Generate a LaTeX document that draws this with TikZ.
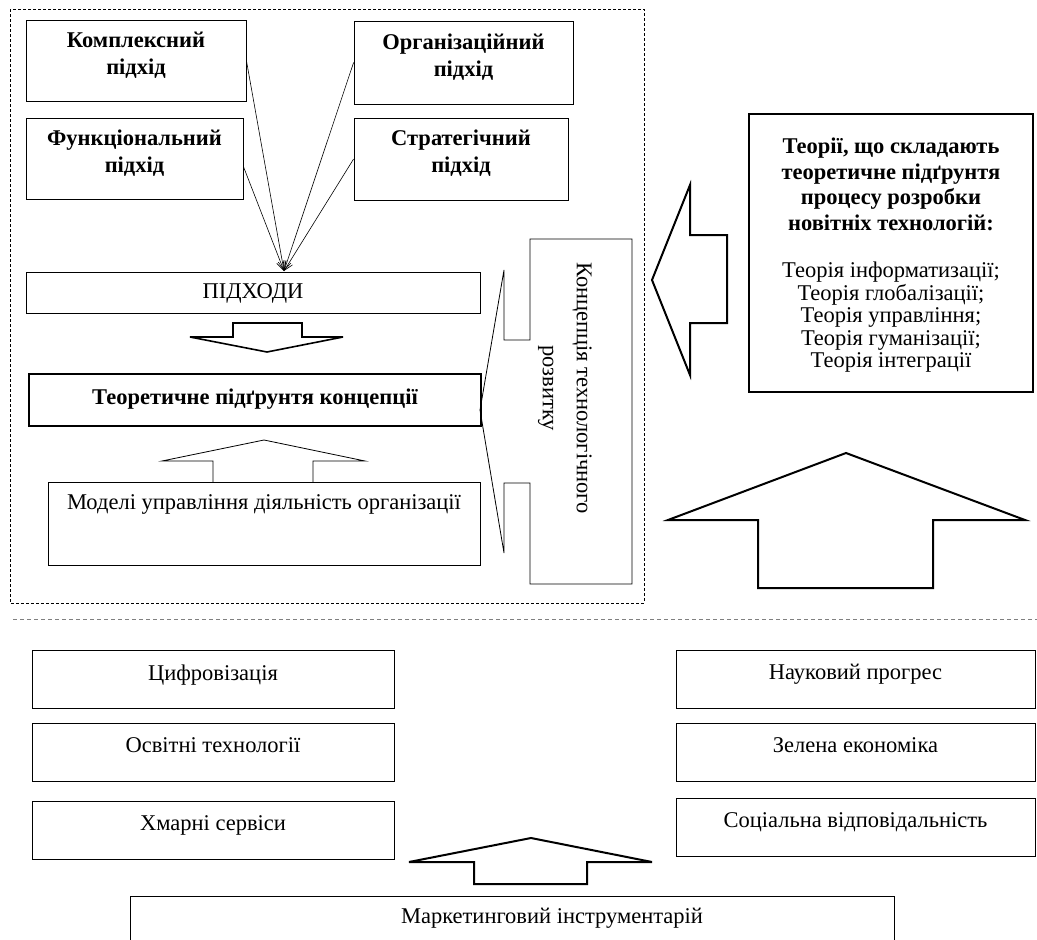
\documentclass[tikz,border=0pt]{standalone}
\usepackage{fontspec}
\setmainfont{Liberation Serif}
\usetikzlibrary{arrows.meta}
\newcommand{\boxtext}[4]{\parbox[c][#2pt][t]{#1pt}{\centering\vspace{#3pt}\rule{0pt}{15pt}#4\par}}

\begin{document}
\begin{tikzpicture}[x=1pt, y=-1pt,
  box/.style={draw, line width=0.8pt, inner sep=0pt, font=\fontsize{22.5}{27}\selectfont},
  heavybox/.style={box, line width=2.5pt},
  blockarrow/.style={line width=2pt, line join=miter},
  link/.style={-{Straight Barb[length=9pt,width=8pt]}, line width=0.6pt}]
 \path[use as bounding box, clip] (0,0) rectangle (1037,940);

 % upper part: approaches and concept
 \draw[line width=0.7pt, dash pattern=on 3pt off 2pt] (10,9) rectangle (644,603);
 \node[box] (komp) at (136,60.5) {\boxtext{220}{81}{12}{\bfseries Комплексний\\підхід}};
 \node[box] (func) at (134.5,158.5) {\boxtext{217}{81}{12}{\bfseries Функціональний\\підхід}};
 \node[box] (org) at (463.5,62.5) {\boxtext{219}{83}{13}{\bfseries Організаційний\\підхід}};
 \node[box] (strat) at (461,159) {\boxtext{214}{82}{12}{\bfseries Стратегічний\\підхід}};
 \node[box] (approaches) at (253,292.5) {\boxtext{454}{41}{11}{ПІДХОДИ}};
 \node[heavybox] (base) at (255,400) {\boxtext{452}{52}{15}{\bfseries Теоретичне підґрунтя концепції}};
 \node[box] (models) at (264,523.5) {\boxtext{432}{83}{12}{Моделі управління діяльність організації}};
 \coordinate (merge) at (284,271);
 \draw[link] (komp.east) -- (merge);
 \draw[link] ([yshift=-8pt]func.east) -- (merge);
 \draw[link] (org.west) -- (merge);
 \draw[link] (strat.west) -- (merge);
 \draw[blockarrow, line width=1.6pt] (233,323) -- (302,323) -- (302,337) -- (343,337) -- (267,352) -- (190,337) -- (233,337) -- cycle;
 \draw[line width=0.8pt] (213,482) -- (213,461) -- (162,461) -- (264,440) -- (365,461) -- (313,461) -- (313,482);

 % concept callout
 \draw[line width=0.8pt] (530,239) -- (632,239) -- (632,584) -- (530,584) -- (530,483) -- (504,483) -- (504,553)
   -- (480,410) -- (504,270) -- (504,340) -- (530,340) -- cycle;
 \node[rotate=-90, align=center, font=\fontsize{22.5}{34}\selectfont] (concept) at (565,388) {Концепція технологічного\\розвитку};

 % theories
 \node[heavybox, line width=2.2pt] (theories) at (891,253) {\boxtext{284}{278}{24}{{\bfseries\fontsize{22.5}{25.5}\selectfont
   Теорії, що складають\\теоретичне підґрунтя\\процесу розробки\\новітніх технологій:\par}\vspace{25pt}%
   \fontsize{22.5}{22.5}\selectfont Теорія інформатизації;\\Теорія глобалізації;\\Теорія управління;\\Теорія гуманізації;\\Теорія інтеграції}};
 \draw[blockarrow] (652,280) -- (690,185) -- (690,235) -- (727,235) -- (727,323) -- (690,323) -- (690,375) -- cycle;
 \draw[blockarrow] (846,453) -- (1025,520) -- (933,520) -- (933,588) -- (758,588) -- (758,520) -- (668,520) -- cycle;

 % lower part: factors
 \draw[gray, line width=0.7pt, dash pattern=on 4pt off 3pt] (13,619) -- (1037,619);
 \foreach \nm/\yc/\txt in {digit/679.5/Цифровізація, edu/752/Освітні технології, cloud/830/Хмарні сервіси}
   \node[box] (\nm) at (213,\yc) {\boxtext{362}{58}{14}{\txt}};
 \foreach \nm/\yc/\txt in {science/679/Науковий прогрес, green/752/Зелена економіка, social/827/Соціальна відповідальність}
   \node[box] (\nm) at (855.5,\yc) {\boxtext{359}{58}{14}{\txt}};
 \node[box] (market) at (512,931) {\boxtext{764}{70}{12}{\hspace*{80pt}Маркетинговий інструментарій}};
 \draw[blockarrow] (531,838) -- (652,862) -- (587,862) -- (587,884) -- (474,884) -- (474,862) -- (409,862) -- cycle;
\end{tikzpicture}
\end{document}
